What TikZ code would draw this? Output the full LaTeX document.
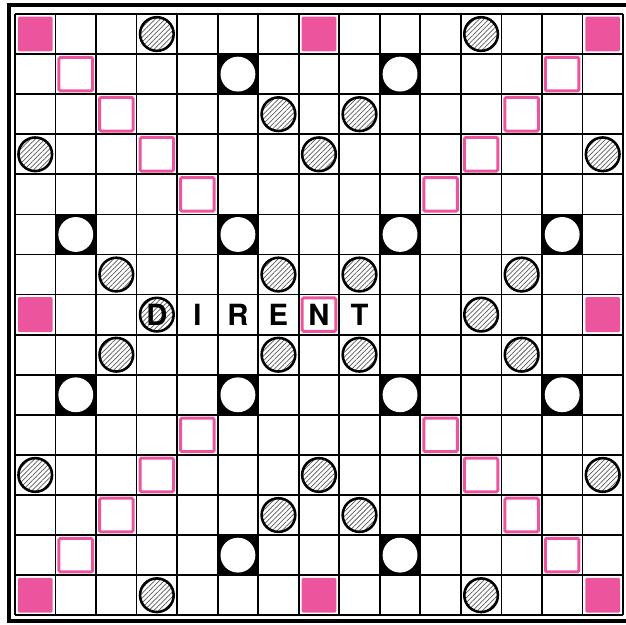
\documentclass[tikz,border=0pt]{standalone}
\usepackage{fontspec}
\setmainfont{TeX Gyre Heros}
\usetikzlibrary{patterns.meta}
\definecolor{boardpink}{RGB}{236,84,158}

\begin{document}
\begin{tikzpicture}[
    x=1cm, y=-0.989cm,
    gridline/.style={line width=1.2pt},
    frameline/.style={line width=3pt},
    tw/.style={fill=boardpink, rounded corners=1pt, minimum size=0.86cm,
               inner sep=0pt},
    dw/.style={draw=boardpink, line width=2.1pt, rounded corners=1pt,
               minimum size=0.83cm, inner sep=0pt},
    dl/.style={circle, draw, line width=1.8pt, minimum size=0.83cm,
               inner sep=0pt, pattern color=black!65,
               pattern={Lines[angle=45, distance=2.4pt, line width=0.5pt]}},
    tl/.style={circle, fill=white, minimum size=0.86cm, inner sep=0pt},
    tile/.style={font=\bfseries\fontsize{20.5}{20.5}\selectfont,
                 inner sep=0pt}
  ]
  \useasboundingbox (-0.370,-0.349) rectangle (15.075,15.22);

  % Outer frame (right side runs off the page)
  \draw[frameline] (15.075,-0.225) -- (-0.148,-0.225) -- (-0.148,15.15)
    -- (15.075,15.15);

  % 15 x 15 grid
  \foreach \i in {0,...,15} {
    \draw[gridline] (\i,0) -- (\i,15);
    \draw[gridline] (0,\i) -- (15,\i);
  }

  % Triple word
  \foreach \c/\r in {0/0, 7/0, 14/0, 0/7, 14/7, 0/14, 7/14, 14/14} {
    \node[tw] (tw-\c-\r) at (\c+0.5, \r+0.5) {};
  }

  % Double word
  \foreach \c/\r in {1/1, 2/2, 3/3, 4/4, 13/1, 12/2, 11/3, 10/4,
                     4/10, 3/11, 2/12, 1/13, 10/10, 11/11, 12/12, 13/13,
                     7/7} {
    \node[dw] (dw-\c-\r) at (\c+0.5, \r+0.5) {};
  }

  % Triple letter
  \foreach \c/\r in {5/1, 9/1, 1/5, 5/5, 9/5, 13/5,
                     1/9, 5/9, 9/9, 13/9, 5/13, 9/13} {
    \fill (\c,\r) rectangle ++(1,1);
    \node[tl] (tl-\c-\r) at (\c+0.5, \r+0.5) {};
  }

  % Double letter
  \foreach \c/\r in {3/0, 11/0, 6/2, 8/2, 0/3, 7/3, 14/3,
                     2/6, 6/6, 8/6, 12/6, 3/7, 11/7, 2/8, 6/8, 8/8, 12/8,
                     0/11, 7/11, 14/11, 6/12, 8/12, 3/14, 11/14} {
    \node[dl] (dl-\c-\r) at (\c+0.5, \r+0.5) {};
  }

  % Word on the centre row
  \foreach \c/\l in {3/D, 4/I, 5/R, 6/E, 7/N, 8/T} {
    \node[tile] (w\c) at (\c+0.5, 7.5) {\l};
  }
\end{tikzpicture}
\end{document}
